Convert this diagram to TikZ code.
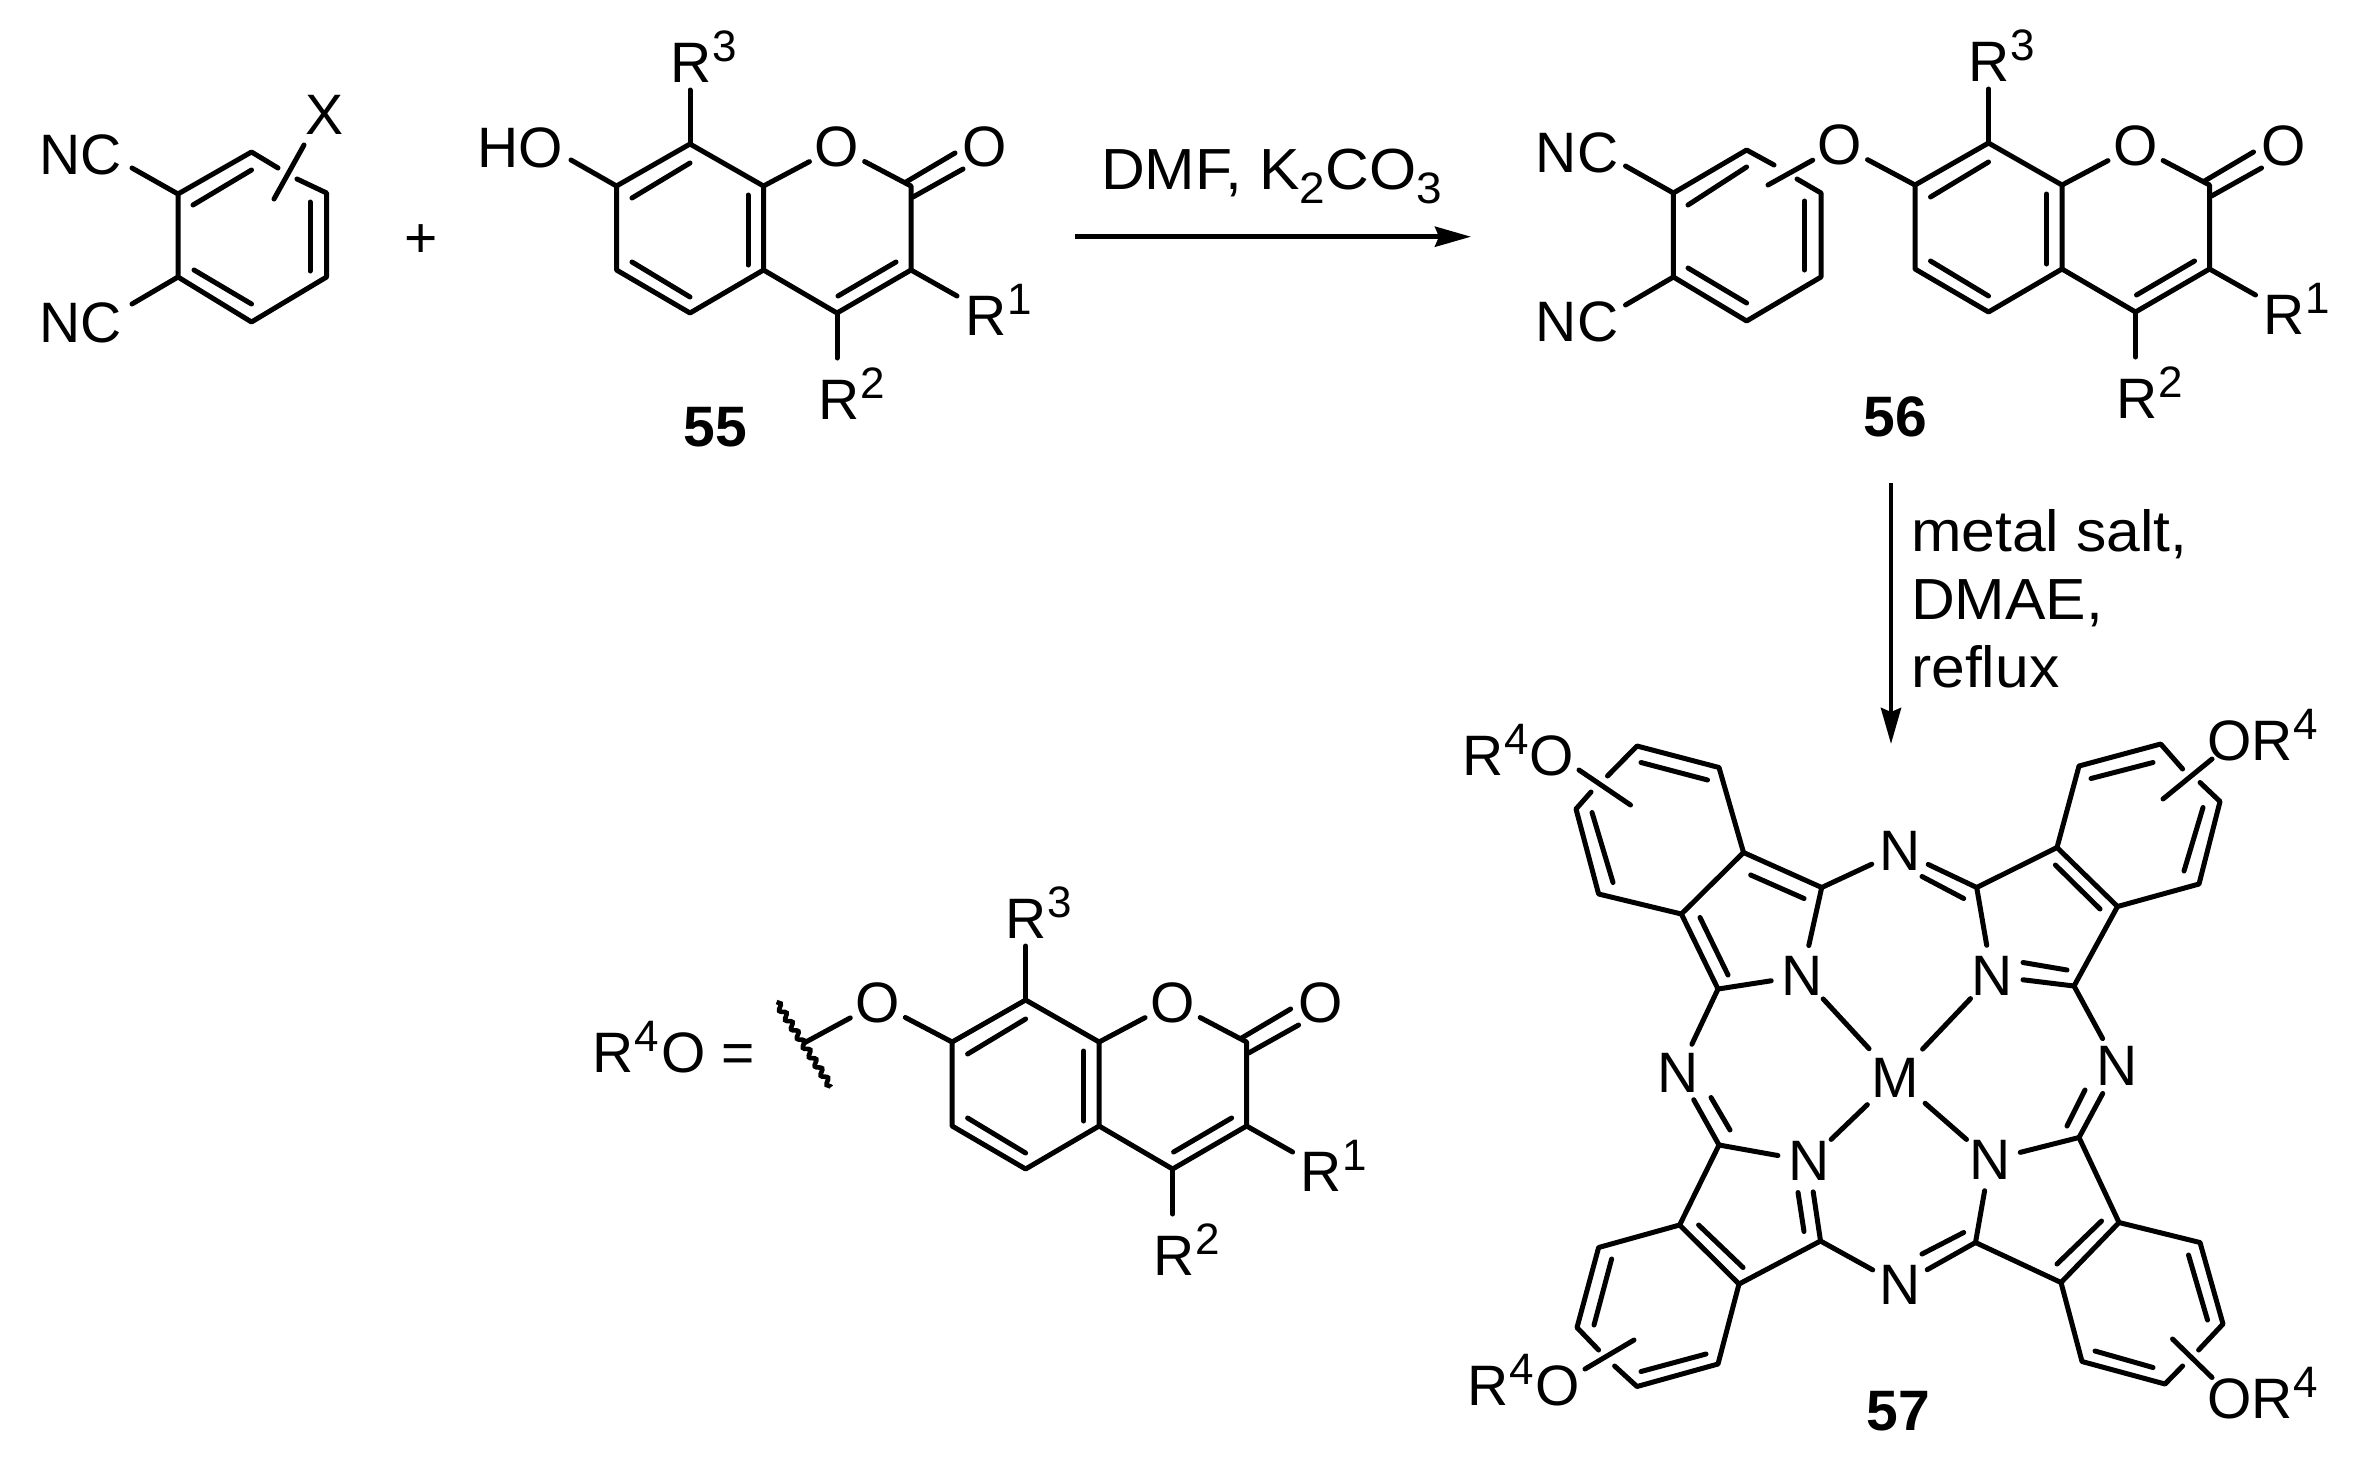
\documentclass[tikz,border=0pt]{standalone}
\usepackage{fontspec}
\setmainfont{Liberation Sans}
\newfontfamily\reagfam[FakeStretch=1.045]{Liberation Sans}
\usetikzlibrary{arrows.meta,decorations.pathmorphing}
\newcommand{\chemfont}{\fontsize{57}{68}\selectfont}
\newcommand{\reagfont}{\reagfam\fontsize{58}{68}\selectfont}
\newcommand{\supnum}[1]{\kern1pt\raisebox{21pt}{\fontsize{44}{44}\selectfont #1}}
\newcommand{\subnum}[1]{\raisebox{-14pt}{\fontsize{44}{44}\selectfont #1}}
\tikzset{
  bond/.style={line width=5pt,line cap=round,line join=round,black},
  atom/.style={circle,inner sep=0pt,minimum size=62pt,font=\chemfont},
  lab/.style={inner sep=0pt,font=\chemfont},
  basew/.style={lab,anchor=base west},
  boldlab/.style={inner sep=0pt,font=\chemfont\bfseries},
  reag/.style={inner sep=0pt,font=\reagfont,anchor=base west},
  rxn/.style={line width=4.6pt,black,-{Stealth[length=36pt,width=20pt,inset=4pt]}},
  wavy/.style={line width=4.6pt,decorate,decoration={snake,segment length=11pt,amplitude=2.6pt}}
}
% coumarin skeleton: #1 = name prefix, (#2,#3) = position of C8
\newcommand{\coumarin}[3]{%
\begin{scope}[shift={(#2,#3)}]
  \coordinate (#1c8) at (0,0);
  \coordinate (#1c7) at (-73.5,42);
  \coordinate (#1c6) at (-73.5,126);
  \coordinate (#1c5) at (0,169);
  \coordinate (#1c4a) at (73.5,126);
  \coordinate (#1c8a) at (73.5,42);
  \coordinate (#1c2) at (221,42);
  \coordinate (#1c3) at (221,126);
  \coordinate (#1c4) at (147,169);
  \node[atom] (#1o1) at (147,3) {O};
  \node[atom] (#1oc) at (295,3) {O};
  \coordinate (#1r3e) at (0,-54);
  \coordinate (#1r1e) at (267,152);
  \coordinate (#1r2e) at (147,214);
  \node[basew] (#1r3) at (-20,-62) {R\supnum{3}};
  \node[basew] (#1r1) at (275,191) {R\supnum{1}};
  \node[basew] (#1r2) at (128,275) {R\supnum{2}};
  \draw[bond] (#1c8) -- (#1c7) -- (#1c6) -- (#1c5) -- (#1c4a) -- (#1c8a) -- (#1c8);
  \draw[bond] (#1c8a) -- (#1o1);
  \draw[bond] (#1o1) -- (#1c2) -- (#1c3) -- (#1c4) -- (#1c4a);
  \draw[bond] (#1c8) -- (#1r3e);
  \draw[bond] (#1c3) -- (#1r1e);
  \draw[bond] (#1c4) -- (#1r2e);
  \draw[bond] (-58,54) -- (0,19);
  \draw[bond] (58,51) -- (58,121);
  \draw[bond] (-58,118) -- (0,153);
  \draw[bond] (148,152) -- (206,118);
  \draw[bond] (216,38) -- (265,9);
  \draw[bond] (223,53) -- (273,25);
\end{scope}}
\begin{document}
\begin{tikzpicture}[x=1pt,y=-1pt]
\useasboundingbox (0,0) rectangle (2363,1459);
\fill[white] (0,0) rectangle (2363,1459);

% ---- phthalonitrile with X
\coordinate (a1) at (178,194);
\coordinate (a2) at (251.5,152);
\coordinate (a3) at (326.6,193);
\coordinate (a4) at (326.6,277);
\coordinate (a5) at (251.5,322);
\coordinate (a6) at (178,277);
\coordinate (a2g) at (278,168);
\coordinate (a3g) at (297,179);
\coordinate (ax1) at (274,199);
\coordinate (ax2) at (304,145);
\coordinate (an1) at (132,168);
\coordinate (an2) at (132,304);
\node[lab] (nc1) at (81,155) {NC};
\node[lab] (nc2) at (81,323) {NC};
\node[lab] (x1) at (324.5,115) {X};
\draw[bond] (a3g) -- (a3) -- (a4) -- (a5) -- (a6) -- (a1) -- (a2) -- (a2g);
\draw[bond] (ax1) -- (ax2);
\draw[bond] (a1) -- (an1);
\draw[bond] (a6) -- (an2);
\draw[bond] (193,205) -- (251.5,170);
\draw[bond] (310,202) -- (310,271);
\draw[bond] (194,270) -- (251.5,304);

\node[lab] (plus) at (421.5,241) {+};

% ---- 55
\coumarin{k}{690}{144}
\node[lab] (ho) at (520,148) {HO};
\coordinate (hoe) at (571,160);
\draw[bond] (kc7) -- (hoe);
\node[boldlab] (n55) at (715,427) {55};

% ---- arrow 1
\coordinate (ar1s) at (1075,236.7);
\coordinate (ar1e) at (1471,236.7);
\draw[rxn] (ar1s) -- (ar1e);
\node[reag] (dmf) at (1101,189) {DMF, K\subnum{2}CO\subnum{3}};

% ---- 56
\coumarin{m}{1988.5}{143}
\coordinate (b1) at (1673.4,193);
\coordinate (b2) at (1746.6,150);
\coordinate (b3) at (1821,193);
\coordinate (b4) at (1821,277);
\coordinate (b5) at (1746.6,321);
\coordinate (b6) at (1673.4,277);
\coordinate (b2g) at (1774,165);
\coordinate (b3g) at (1797,179);
\coordinate (bsub) at (1768,185);
\coordinate (bn1) at (1625.5,166);
\coordinate (bn2) at (1625.5,305);
\node[lab] (nc3) at (1577,153) {NC};
\node[lab] (nc4) at (1577,322) {NC};
\node[atom] (moe) at (1840,145) {O};
\draw[bond] (b3g) -- (b3) -- (b4) -- (b5) -- (b6) -- (b1) -- (b2) -- (b2g);
\draw[bond] (moe) -- (bsub);
\draw[bond] (moe) -- (mc7);
\draw[bond] (b1) -- (bn1);
\draw[bond] (b6) -- (bn2);
\draw[bond] (1688,205) -- (1746.6,167);
\draw[bond] (1804.5,201) -- (1804.5,270);
\draw[bond] (1688,268) -- (1746.6,303);
\node[boldlab] (n56) at (1895,417) {56};

% ---- arrow 2
\coordinate (ar2s) at (1891,483);
\coordinate (ar2e) at (1891,744);
\draw[rxn] (ar2s) -- (ar2e);
\node[reag] (rg1) at (1911,551.7) {metal salt,};
\node[reag] (rg2) at (1911,619) {DMAE,};
\node[reag] (rg3) at (1911,687) {reflux};

% ---- R4O definition
\coumarin{d}{1025.6}{1000}
\node[basew] (r4def) at (592.5,1072.7) {R\supnum{4}\kern2ptO =};
\node[atom] (doe) at (877.7,1003) {O};
\coordinate (dw) at (804,1043);
\coordinate (dw1) at (776.6,1002);
\coordinate (dw2) at (831,1087);
\draw[bond] (doe) -- (dc7);
\draw[bond] (doe) -- (dw);
\draw[wavy] (dw1) -- (dw2);

% ---- 57 phthalocyanine
\node[atom,minimum size=78pt] (M) at (1895.6,1077.5) {M};
\node[atom] (na) at (1802,976) {N};
\node[atom] (nb) at (1992,976) {N};
\node[atom] (nc) at (1990,1160) {N};
\node[atom] (nd) at (1808.6,1161) {N};
\node[atom] (mt) at (1900,851) {N};
\node[atom] (mr) at (2117.5,1066) {N};
\node[atom] (mb) at (1900,1285) {N};
\node[atom] (ml) at (1678.5,1072.5) {N};
% top left
\coordinate (p1) at (1637,746);
\coordinate (p2) at (1719,767.5);
\coordinate (p3) at (1743.5,852.5);
\coordinate (p4) at (1681.4,914);
\coordinate (p5) at (1598.6,894);
\coordinate (p6) at (1576,809);
\coordinate (p6g) at (1591,792);
\coordinate (p1g) at (1607.5,776);
\coordinate (c1) at (1718,989);
\coordinate (c2) at (1821.7,887.5);
% top right
\coordinate (q1) at (2160.7,744);
\coordinate (q2) at (2079,766);
\coordinate (q3) at (2057,847.5);
\coordinate (q4) at (2117.5,906.5);
\coordinate (q5) at (2199,884);
\coordinate (q6) at (2220,801.5);
\coordinate (q1g) at (2182.6,769);
\coordinate (q6g) at (2200,782.5);
\coordinate (d1x) at (2074,986);
\coordinate (d2x) at (1976.7,887.5);
% bottom right
\coordinate (r1) at (2061,1282.5);
\coordinate (r2) at (2119,1222.5);
\coordinate (r3) at (2200,1242.5);
\coordinate (r4) at (2223,1324);
\coordinate (r5) at (2165,1384);
\coordinate (r6) at (2082,1361.5);
\coordinate (r4g) at (2198.6,1350);
\coordinate (r5g) at (2182.6,1366);
\coordinate (e1) at (2079,1137.5);
\coordinate (e2) at (1975.5,1242.5);
% bottom left
\coordinate (s1) at (1679.6,1225);
\coordinate (s2) at (1739,1284);
\coordinate (s3) at (1718,1364);
\coordinate (s4) at (1637,1386.5);
\coordinate (s5) at (1577,1327.5);
\coordinate (s6) at (1598.6,1247.5);
\coordinate (s5g) at (1598.6,1350);
\coordinate (s4g) at (1614.6,1366);
\coordinate (f1) at (1719,1145);
\coordinate (f2) at (1820.5,1241);
% substituent labels
\node[basew] (o1) at (1462.6,775) {R\supnum{4}O};
\node[basew] (o2) at (2207,760) {OR\supnum{4}};
\node[basew] (o3) at (1466.8,1405) {R\supnum{4}\kern2ptO};
\node[basew] (o4) at (2207,1418) {OR\supnum{4}};
\coordinate (o1a) at (1579,770);
\coordinate (o1b) at (1630.5,805);
\coordinate (o2a) at (2212,759);
\coordinate (o2b) at (2163,799);
\coordinate (o3a) at (1585,1369);
\coordinate (o3b) at (1634,1340);
\coordinate (o4a) at (2212,1377.5);
\coordinate (o4b) at (2172.5,1339);
\draw[bond] (o1a) -- (o1b);
\draw[bond] (o2a) -- (o2b);
\draw[bond] (o3a) -- (o3b);
\draw[bond] (o4a) -- (o4b);
% rings
\draw[bond] (p1g) -- (p1) -- (p2) -- (p3) -- (p4) -- (p5) -- (p6) -- (p6g);
\draw[bond] (q1g) -- (q1) -- (q2) -- (q3) -- (q4) -- (q5) -- (q6) -- (q6g);
\draw[bond] (r4g) -- (r4) -- (r3) -- (r2) -- (r1) -- (r6) -- (r5) -- (r5g);
\draw[bond] (s5g) -- (s5) -- (s6) -- (s1) -- (s2) -- (s3) -- (s4) -- (s4g);
\draw[bond] (p3) -- (c2);
\draw[bond] (p4) -- (c1);
\draw[bond] (c1) -- (na);
\draw[bond] (c2) -- (na);
\draw[bond] (q3) -- (d2x);
\draw[bond] (q4) -- (d1x);
\draw[bond] (d1x) -- (nb);
\draw[bond] (d2x) -- (nb);
\draw[bond] (r2) -- (e1);
\draw[bond] (r1) -- (e2);
\draw[bond] (e1) -- (nc);
\draw[bond] (e2) -- (nc);
\draw[bond] (s1) -- (f1);
\draw[bond] (s2) -- (f2);
\draw[bond] (f1) -- (nd);
\draw[bond] (f2) -- (nd);
\draw[bond] (c2) -- (mt);
\draw[bond] (d2x) -- (mt);
\draw[bond] (d1x) -- (mr);
\draw[bond] (e1) -- (mr);
\draw[bond] (e2) -- (mb);
\draw[bond] (f2) -- (mb);
\draw[bond] (f1) -- (ml);
\draw[bond] (c1) -- (ml);
\draw[bond] (M) -- (na);
\draw[bond] (M) -- (nb);
\draw[bond] (M) -- (nc);
\draw[bond] (M) -- (nd);
% second lines of double bonds
\draw[bond] (1641,762.5) -- (1707.5,780);
\draw[bond] (1592,812.5) -- (1613,882.5);
\draw[bond] (1750.7,875) -- (1804,898.5);
\draw[bond] (1700,917.5) -- (1728,975);
\draw[bond] (1922,876.5) -- (1963.7,898.5);
\draw[bond] (2091,778.5) -- (2153,762.5);
\draw[bond] (2184,871) -- (2203,807.5);
\draw[bond] (2055.4,865) -- (2100,909);
\draw[bond] (2023,962.5) -- (2067,970);
\draw[bond] (2085,1090) -- (2067,1126);
\draw[bond] (2057,1264) -- (2101.5,1221);
\draw[bond] (2188.5,1255) -- (2207.5,1320);
\draw[bond] (2095,1351) -- (2153,1367.5);
\draw[bond] (1963.7,1232.5) -- (1922,1254);
\draw[bond] (1804,1231.5) -- (1798,1192.5);
\draw[bond] (1698.6,1225) -- (1743,1267.5);
\draw[bond] (1611.6,1259) -- (1594,1325);
\draw[bond] (1706,1354) -- (1641,1371.5);
\draw[bond] (1711,1097.5) -- (1730,1130);
\node[boldlab] (n57) at (1898.6,1411) {57};
\end{tikzpicture}
\end{document}
